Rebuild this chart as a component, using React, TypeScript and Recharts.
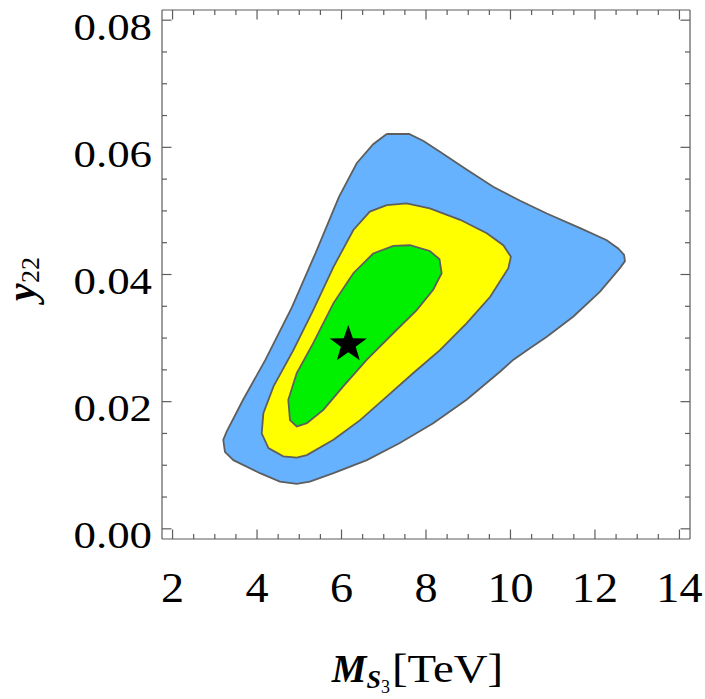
import React from 'react';
import { ComposedChart, Area, Scatter, XAxis, YAxis } from 'recharts';

// ---- data ----
const xDomain = [1.75, 14.25];
const yDomain = [-0.0016, 0.0816];

const xMajorTicks = [2, 4, 6, 8, 10, 12, 14];
const xTickLabels = ['2', '4', '6', '8', '10', '12', '14'];
const xAllTicks = [2, 2.5, 3, 3.5, 4, 4.5, 5, 5.5, 6, 6.5, 7, 7.5, 8, 8.5, 9, 9.5, 10, 10.5, 11, 11.5, 12, 12.5, 13, 13.5, 14];

const yMajorTicks = [0, 0.02, 0.04, 0.06, 0.08];
const yTickLabels = ['0.00', '0.02', '0.04', '0.06', '0.08'];
const yAllTicks = [0, 0.005, 0.01, 0.015, 0.02, 0.025, 0.03, 0.035, 0.04, 0.045, 0.05, 0.055, 0.06, 0.065, 0.07, 0.075, 0.08];

// 3-sigma region (blue)
const blueRegion = [
  { x: 7.07, y: 0.0621 }, { x: 7.6, y: 0.0621 }, { x: 7.94, y: 0.061 }, { x: 8.33, y: 0.0593 },
  { x: 8.96, y: 0.0565 }, { x: 9.59, y: 0.0538 }, { x: 10.23, y: 0.0516 }, { x: 10.86, y: 0.0496 },
  { x: 11.65, y: 0.0473 }, { x: 12.28, y: 0.0454 }, { x: 12.55, y: 0.0441 }, { x: 12.69, y: 0.0431 },
  { x: 12.71, y: 0.0421 }, { x: 12.59, y: 0.041 }, { x: 12.12, y: 0.0373 }, { x: 11.49, y: 0.0334 },
  { x: 10.86, y: 0.0302 }, { x: 10.46, y: 0.0284 }, { x: 10.07, y: 0.0266 }, { x: 9.75, y: 0.0247 },
  { x: 8.96, y: 0.0203 }, { x: 8.17, y: 0.0166 }, { x: 7.38, y: 0.0135 }, { x: 6.6, y: 0.0108 },
  { x: 5.81, y: 0.00875 }, { x: 5.25, y: 0.00743 }, { x: 4.94, y: 0.00707 }, { x: 4.54, y: 0.00743 },
  { x: 4.07, y: 0.00875 }, { x: 3.44, y: 0.0108 }, { x: 3.24, y: 0.0121 }, { x: 3.2, y: 0.014 },
  { x: 3.28, y: 0.0153 }, { x: 3.67, y: 0.0203 }, { x: 4.2, y: 0.0266 }, { x: 4.83, y: 0.0349 },
  { x: 5.38, y: 0.0433 }, { x: 5.94, y: 0.0522 }, { x: 6.36, y: 0.0575 }, { x: 6.75, y: 0.0605 },
];

// 2-sigma region (yellow)
const yellowRegion = [
  { x: 7.07, y: 0.0509 }, { x: 7.54, y: 0.0512 }, { x: 8.09, y: 0.0504 }, { x: 8.81, y: 0.0486 },
  { x: 9.44, y: 0.0465 }, { x: 9.83, y: 0.0446 }, { x: 10.01, y: 0.0428 }, { x: 9.95, y: 0.041 },
  { x: 9.52, y: 0.0365 }, { x: 8.96, y: 0.0323 }, { x: 8.33, y: 0.0281 }, { x: 7.7, y: 0.0245 },
  { x: 7.07, y: 0.0208 }, { x: 6.44, y: 0.0171 }, { x: 5.81, y: 0.014 }, { x: 5.18, y: 0.0116 },
  { x: 4.94, y: 0.0112 }, { x: 4.62, y: 0.0114 }, { x: 4.27, y: 0.0127 }, { x: 4.11, y: 0.015 },
  { x: 4.15, y: 0.0182 }, { x: 4.39, y: 0.0224 }, { x: 4.86, y: 0.0281 }, { x: 5.33, y: 0.0344 },
  { x: 5.81, y: 0.0412 }, { x: 6.28, y: 0.047 }, { x: 6.67, y: 0.0499 },
];

// 1-sigma region (green)
const greenRegion = [
  { x: 7.23, y: 0.0445 }, { x: 7.62, y: 0.0446 }, { x: 8.09, y: 0.0437 }, { x: 8.32, y: 0.0424 },
  { x: 8.37, y: 0.0402 }, { x: 8.17, y: 0.0376 }, { x: 7.78, y: 0.0344 }, { x: 7.23, y: 0.0308 },
  { x: 6.6, y: 0.0266 }, { x: 6.04, y: 0.0224 }, { x: 5.57, y: 0.0187 }, { x: 5.18, y: 0.0166 },
  { x: 4.94, y: 0.0161 }, { x: 4.78, y: 0.0171 }, { x: 4.74, y: 0.0203 }, { x: 4.94, y: 0.0245 },
  { x: 5.33, y: 0.0292 }, { x: 5.81, y: 0.0355 }, { x: 6.28, y: 0.0402 }, { x: 6.75, y: 0.0433 },
];

const bestFit = [{ x: 6.16, y: 0.029 }];

// ---- styling ----
const FONT = '"Liberation Serif", "Times New Roman", Times, serif';
const AX = '#5c5c5c';
const MAJOR_LEN = 9.5;
const MINOR_LEN = 5;

const closeLoop = (pts: { x: number; y: number }[]) => [...pts, pts[0]];

const majorIndex = (v: number, majors: number[]) => majors.findIndex((m) => Math.abs(m - v) < 1e-9);

const BottomTick = (props: any) => {
  const { x, y, payload } = props;
  const idx = majorIndex(payload.value, xMajorTicks);
  const major = idx >= 0;
  return (
    <g>
      <line x1={x} x2={x} y1={y} y2={y - (major ? MAJOR_LEN : MINOR_LEN)} stroke={AX} strokeWidth={1.2} />
      {major && (
        <text
          transform={`translate(${x},${y + 62.5}) scale(1.1,1)`}
          textAnchor="middle"
          fontFamily={FONT}
          fontSize={42}
          fill="#000"
        >
          {xTickLabels[idx]}
        </text>
      )}
    </g>
  );
};

const TopTick = (props: any) => {
  const { x, y, payload } = props;
  const major = majorIndex(payload.value, xMajorTicks) >= 0;
  return <line x1={x} x2={x} y1={y} y2={y + (major ? MAJOR_LEN : MINOR_LEN)} stroke={AX} strokeWidth={1.2} />;
};

const LeftTick = (props: any) => {
  const { x, y, payload } = props;
  const idx = majorIndex(payload.value, yMajorTicks);
  const major = idx >= 0;
  return (
    <g>
      <line x1={x} x2={x + (major ? MAJOR_LEN : MINOR_LEN)} y1={y} y2={y} stroke={AX} strokeWidth={1.2} />
      {major && (
        <text
          transform={`translate(${x - 10},${y + 19.5}) scale(1.18,1)`}
          textAnchor="end"
          fontFamily={FONT}
          fontSize={38}
          fill="#000"
        >
          {yTickLabels[idx]}
        </text>
      )}
    </g>
  );
};

const RightTick = (props: any) => {
  const { x, y, payload } = props;
  const major = majorIndex(payload.value, yMajorTicks) >= 0;
  return <line x1={x} x2={x - (major ? MAJOR_LEN : MINOR_LEN)} y1={y} y2={y} stroke={AX} strokeWidth={1.2} />;
};

const XTitle = (props: any) => {
  const vb = props.viewBox || { x: 162, y: 539, width: 528, height: 160 };
  const cx = vb.x + vb.width / 2;
  const by = vb.y + 143;
  return (
    <g>
      <text x={cx - 36} y={by} textAnchor="end" fontFamily={FONT} fill="#000">
        <tspan fontWeight="bold" fontStyle="italic" fontSize={39}>M</tspan>
        <tspan fontWeight="bold" fontStyle="italic" fontSize={26} dy={6}>S</tspan>
        <tspan fontSize={18} dy={5}>3</tspan>
      </text>
      <text transform={`translate(${cx - 34},${by}) scale(1.2,1)`} textAnchor="start" fontFamily={FONT} fontSize={39} fill="#000">
        [TeV]
      </text>
    </g>
  );
};

const YTitle = (props: any) => {
  const vb = props.viewBox || { x: 0, y: 10, width: 162, height: 529 };
  const cy = vb.y + vb.height / 2 + 4.5;
  const bx = 35;
  return (
    <text transform={`translate(${vb.x + bx},${cy}) rotate(-90)`} textAnchor="middle" fontFamily={FONT} fill="#000">
      <tspan fontWeight="bold" fontStyle="italic" fontSize={40}>y</tspan>
      <tspan fontSize={26} dy={4}>22</tspan>
    </text>
  );
};

const StarShape = (props: any) => {
  const { cx, cy } = props;
  if (cx == null || cy == null) return null;
  const pts: string[] = [];
  for (let i = 0; i < 10; i++) {
    const r = i % 2 === 0 ? 19.5 : 7.8;
    const a = -Math.PI / 2 + (i * Math.PI) / 5;
    pts.push(`${cx + r * Math.cos(a)},${cy + r * Math.sin(a)}`);
  }
  return <polygon points={pts.join(' ')} fill="#000" />;
};

const contourStroke = '#5e5e5e';

export default function App() {
  return (
    <>
      <style>{`html,body{margin:0;padding:0;overflow:hidden;background:#fff;}`}</style>
      <ComposedChart width={705} height={699} margin={{ top: 0, right: 0, bottom: 0, left: 0 }}>
        <XAxis
          xAxisId={0}
          dataKey="x"
          type="number"
          domain={xDomain}
          allowDataOverflow
          ticks={xAllTicks}
          interval={0}
          height={160}
          tickSize={0}
          tickMargin={0}
          tickLine={false}
          tick={<BottomTick />}
          axisLine={{ stroke: AX, strokeWidth: 1.2 }}
          label={<XTitle />}
        />
        <XAxis
          xAxisId="top"
          dataKey="x"
          orientation="top"
          type="number"
          domain={xDomain}
          allowDataOverflow
          ticks={xAllTicks}
          interval={0}
          height={10}
          tickSize={0}
          tickMargin={0}
          tickLine={false}
          tick={<TopTick />}
          axisLine={{ stroke: AX, strokeWidth: 1.2 }}
        />
        <YAxis
          yAxisId={0}
          type="number"
          domain={yDomain}
          allowDataOverflow
          ticks={yAllTicks}
          interval={0}
          width={162}
          tickSize={0}
          tickMargin={0}
          tickLine={false}
          tick={<LeftTick />}
          axisLine={{ stroke: AX, strokeWidth: 1.2 }}
          label={<YTitle />}
        />
        <YAxis
          yAxisId="right"
          orientation="right"
          type="number"
          domain={yDomain}
          allowDataOverflow
          ticks={yAllTicks}
          interval={0}
          width={15}
          tickSize={0}
          tickMargin={0}
          tickLine={false}
          tick={<RightTick />}
          axisLine={{ stroke: AX, strokeWidth: 1.2 }}
        />
        <Area
          data={closeLoop(blueRegion)}
          dataKey="y"
          type="linear"
          fill="#66B2FF"
          fillOpacity={1}
          stroke={contourStroke}
          strokeWidth={1.8}
          dot={false}
          activeDot={false}
          isAnimationActive={false}
        />
        <Area
          data={closeLoop(yellowRegion)}
          dataKey="y"
          type="linear"
          fill="#FFFF00"
          fillOpacity={1}
          stroke={contourStroke}
          strokeWidth={1.8}
          dot={false}
          activeDot={false}
          isAnimationActive={false}
        />
        <Area
          data={closeLoop(greenRegion)}
          dataKey="y"
          type="linear"
          fill="#00F000"
          fillOpacity={1}
          stroke={contourStroke}
          strokeWidth={1.8}
          dot={false}
          activeDot={false}
          isAnimationActive={false}
        />
        <Scatter data={bestFit} dataKey="y" shape={<StarShape />} isAnimationActive={false} />
      </ComposedChart>
    </>
  );
}
